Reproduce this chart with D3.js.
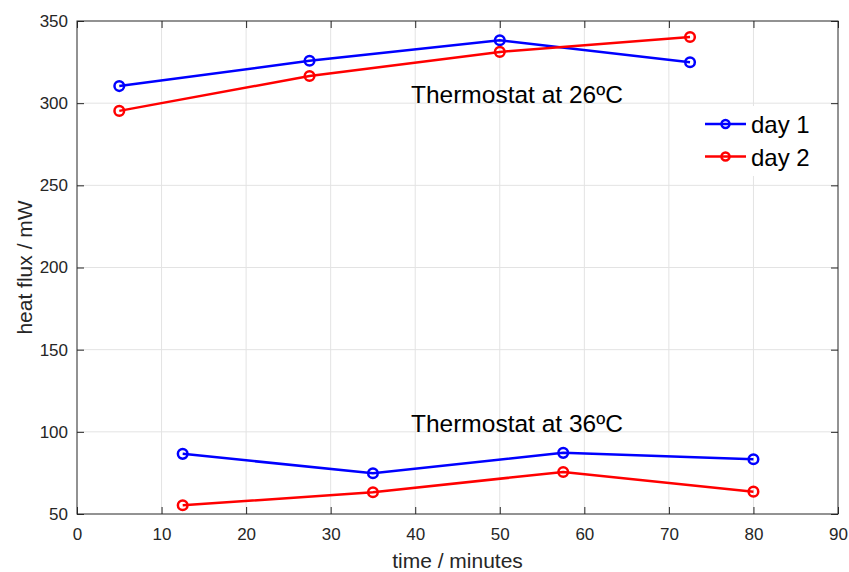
<!DOCTYPE html>
<html>
<head>
<meta charset="utf-8">
<script src="https://cdn.jsdelivr.net/npm/d3@7"></script>
<style>
  body { margin: 0; background: #fff; }
  svg { font-family: "Liberation Sans", Arial, sans-serif; }
</style>
</head>
<body>
<svg id="chart" width="849" height="572"></svg>
<script>
// time points (minutes)
const tLow = [5, 27.5, 50, 72.5];
const tHigh = [12.5, 35, 57.5, 80];

// heat flux (mW)
const day1At26 = [310.4, 325.8, 338.3, 324.9];
const day2At26 = [295.3, 316.5, 331.2, 340.3];
const day1At36 = [86.6, 74.8, 87.2, 83.3];
const day2At36 = [55.3, 63.2, 75.6, 63.6];

const xTicks = [0, 10, 20, 30, 40, 50, 60, 70, 80, 90];
const yTicks = [50, 100, 150, 200, 250, 300, 350];

const seriesNames = ["day 1", "day 2"];
const colors = ["#0000ff", "#ff0000"];

const annotations = [
  { x: 39.5, y: 300, text: "Thermostat at 26ºC" },
  { x: 39.5, y: 100, text: "Thermostat at 36ºC" }
];

const svg = d3.select("#chart");
const margin = { top: 21, right: 11, bottom: 58, left: 77 };
const width = 849, height = 572;

const x = d3.scaleLinear().domain([0, 90]).range([margin.left, width - margin.right]);
const y = d3.scaleLinear().domain([50, 350]).range([height - margin.bottom, margin.top]);

const axisColor = "#262626";

// grid
svg.append("g")
  .selectAll("line")
  .data(xTicks.slice(1, -1))
  .join("line")
  .attr("x1", (d) => x(d)).attr("x2", (d) => x(d))
  .attr("y1", y(50)).attr("y2", y(350))
  .attr("stroke", "#e3e3e3").attr("stroke-width", 1);

svg.append("g")
  .selectAll("line")
  .data(yTicks.slice(1, -1))
  .join("line")
  .attr("y1", (d) => y(d)).attr("y2", (d) => y(d))
  .attr("x1", x(0)).attr("x2", x(90))
  .attr("stroke", "#e3e3e3").attr("stroke-width", 1);

// axes (ticks inward on all sides)
const tick = 7;
const styleAxis = (g, showLabels) => {
  g.select(".domain").remove();
  g.selectAll(".tick line").attr("stroke", axisColor);
  g.selectAll(".tick text")
    .attr("fill", axisColor)
    .style("font-size", "17px")
    .style("display", showLabels ? null : "none");
};

svg.append("g")
  .attr("transform", `translate(0,${y(50)})`)
  .call(d3.axisBottom(x).tickValues(xTicks).tickSize(-tick).tickPadding(14))
  .call((g) => styleAxis(g, true));

svg.append("g")
  .attr("transform", `translate(0,${y(350)})`)
  .call(d3.axisTop(x).tickValues(xTicks).tickSize(-tick))
  .call((g) => styleAxis(g, false));

svg.append("g")
  .attr("transform", `translate(${x(0)},0)`)
  .call(d3.axisLeft(y).tickValues(yTicks).tickSize(-tick).tickPadding(9))
  .call((g) => styleAxis(g, true));

svg.append("g")
  .attr("transform", `translate(${x(90)},0)`)
  .call(d3.axisRight(y).tickValues(yTicks).tickSize(-tick))
  .call((g) => styleAxis(g, false));

svg.append("rect")
  .attr("x", x(0)).attr("y", y(350))
  .attr("width", x(90) - x(0)).attr("height", y(50) - y(350))
  .attr("fill", "none").attr("stroke", axisColor).attr("stroke-width", 1);

// axis labels
svg.append("text")
  .attr("x", (x(0) + x(90)) / 2)
  .attr("y", 568)
  .attr("text-anchor", "middle")
  .attr("fill", axisColor)
  .style("font-size", "21px")
  .text("time / minutes");

svg.append("text")
  .attr("transform", `translate(32,${(y(50) + y(350)) / 2}) rotate(-90)`)
  .attr("text-anchor", "middle")
  .attr("fill", axisColor)
  .style("font-size", "21px")
  .text("heat flux / mW");

// series
const series = [
  { t: tLow, v: day1At26, c: 0 },
  { t: tLow, v: day2At26, c: 1 },
  { t: tHigh, v: day1At36, c: 0 },
  { t: tHigh, v: day2At36, c: 1 }
];

const line = d3.line().x((d) => x(d[0])).y((d) => y(d[1]));

series.forEach((s) => {
  const pts = s.t.map((t, i) => [t, s.v[i]]);
  svg.append("path")
    .datum(pts)
    .attr("d", line)
    .attr("fill", "none")
    .attr("stroke", colors[s.c])
    .attr("stroke-width", 2.5);
  svg.append("g")
    .selectAll("circle")
    .data(pts)
    .join("circle")
    .attr("cx", (d) => x(d[0]))
    .attr("cy", (d) => y(d[1]))
    .attr("r", 4.8)
    .attr("fill", "none")
    .attr("stroke", colors[s.c])
    .attr("stroke-width", 2.5);
});

// annotations
svg.append("g")
  .selectAll("text")
  .data(annotations)
  .join("text")
  .attr("x", (d) => x(d.x))
  .attr("y", (d) => y(d.y))
  .attr("fill", "#000")
  .style("font-size", "24.5px")
  .text((d) => d.text);

// legend
const legend = svg.append("g").attr("transform", "translate(700,106)");
legend.append("rect")
  .attr("width", 122).attr("height", 70)
  .attr("fill", "#fff");

seriesNames.forEach((name, i) => {
  const ly = 18 + i * 32.5;
  legend.append("line")
    .attr("x1", 5).attr("x2", 46)
    .attr("y1", ly).attr("y2", ly)
    .attr("stroke", colors[i]).attr("stroke-width", 2.5);
  legend.append("circle")
    .attr("cx", 25.5).attr("cy", ly).attr("r", 4)
    .attr("fill", "none").attr("stroke", colors[i]).attr("stroke-width", 2.5);
  legend.append("text")
    .attr("x", 51).attr("y", ly + 9)
    .attr("fill", "#000")
    .style("font-size", "24px")
    .text(name);
});
</script>
</body>
</html>
